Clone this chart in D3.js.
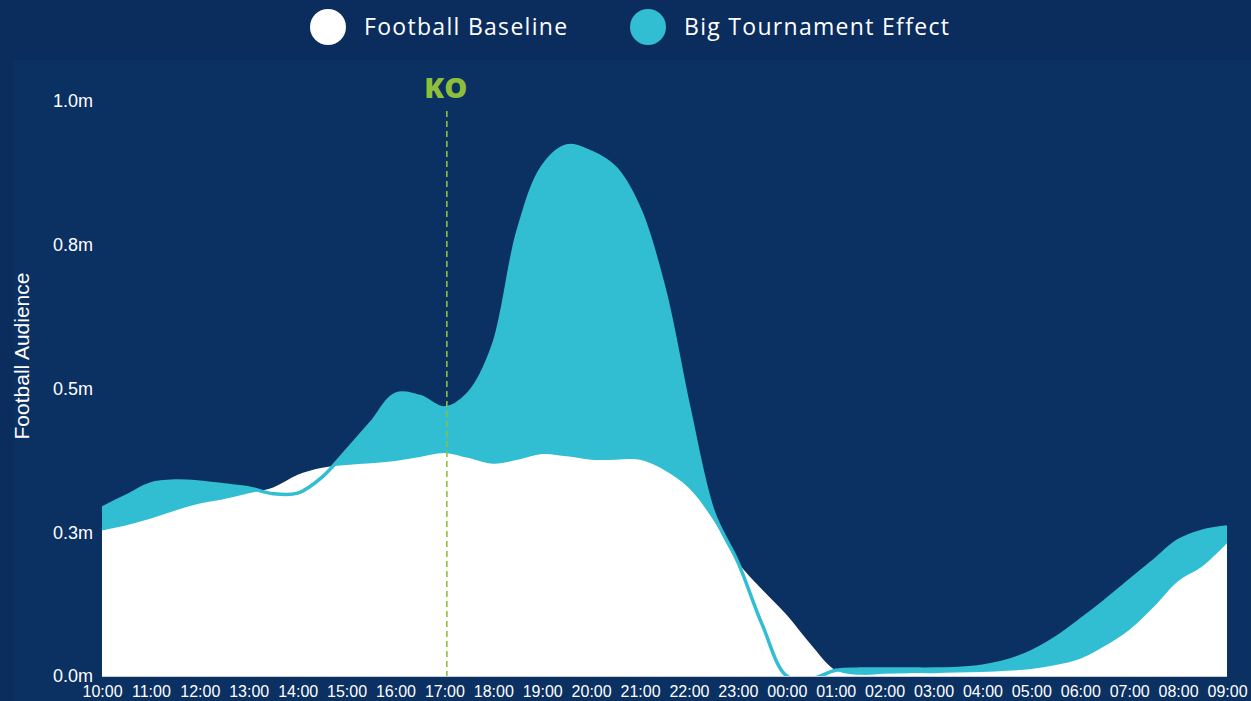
<!DOCTYPE html>
<html>
<head>
<meta charset="utf-8">
<script src="https://cdn.jsdelivr.net/npm/d3@7"></script>
<style>
  html, body { margin: 0; padding: 0; background: #0a2d5e; }
  svg { display: block; }
</style>
</head>
<body>
<svg id="chart" width="1251" height="701"></svg>
<script>
// Half-hourly audience, 10:00 through 09:00 the next morning (hours since midnight, day 1)
const hours = d3.range(10, 33.01, 0.5);

// Football Baseline (millions)
const baseline = [
  0.253, 0.262, 0.274, 0.288, 0.300, 0.308, 0.318, 0.328, 0.350, 0.362,
  0.367, 0.370, 0.374, 0.381, 0.388, 0.379, 0.369, 0.376, 0.386, 0.382,
  0.376, 0.376, 0.376, 0.358, 0.327, 0.271, 0.198, 0.150, 0.106, 0.054,
  0.010, 0.002, 0.004, 0.005, 0.005, 0.006, 0.007, 0.009, 0.012, 0.019,
  0.030, 0.052, 0.080, 0.120, 0.165, 0.191, 0.231
];

// Big Tournament Effect (millions)
const tournament = [
  0.292, 0.313, 0.334, 0.339, 0.337, 0.332, 0.327, 0.317, 0.318, 0.346,
  0.392, 0.440, 0.490, 0.486, 0.466, 0.492, 0.575, 0.772, 0.885, 0.922,
  0.911, 0.883, 0.810, 0.671, 0.466, 0.285, 0.198, 0.089, 0.000, -0.005,
  0.010, 0.012, 0.012, 0.012, 0.012, 0.013, 0.017, 0.026, 0.042, 0.066,
  0.097, 0.130, 0.165, 0.200, 0.235, 0.252, 0.259
];

const tickHours = d3.range(10, 33.01, 1);
const tickLabels = [
  "10:00", "11:00", "12:00", "13:00", "14:00", "15:00", "16:00", "17:00",
  "18:00", "19:00", "20:00", "21:00", "22:00", "23:00", "00:00", "01:00",
  "02:00", "03:00", "04:00", "05:00", "06:00", "07:00", "08:00", "09:00"
];
const yTicks = [0, 0.25, 0.5, 0.75, 1.0];

const seriesNames = ["Football Baseline", "Big Tournament Effect"];
const koHour = 17 + 3 / 60;
const koLabel = "KO";
const yTitle = "Football Audience";

const COLORS = { bg: "#0a2d5e", panel: "#0b3062", base: "#ffffff", effect: "#31bdd2", ko: "#8dbf3b", text: "#ffffff" };

const svg = d3.select("#chart");
const W = 1251, H = 701;
const m = { left: 102, right: 24, top: 101, bottom: 25 };

svg.append("rect").attr("width", W).attr("height", H).attr("fill", COLORS.bg);
svg.append("rect").attr("x", 14).attr("y", 60).attr("width", W - 14).attr("height", H - 60).attr("fill", COLORS.panel);

const x = d3.scaleLinear().domain([10, 33]).range([m.left, W - m.right]);
const y = d3.scaleLinear().domain([0, 1]).range([H - m.bottom, m.top]);

svg.append("defs").append("clipPath").attr("id", "plotClip")
  .append("rect")
  .attr("x", x(10)).attr("y", y(1) - 60)
  .attr("width", x(33) - x(10)).attr("height", y(0) - y(1) + 60);

const curve = d3.curveCatmullRom.alpha(0.5);
const effectData = hours.map((h, i) => ({ h, v: tournament[i] }));
const baseData = hours.map((h, i) => ({ h, v: baseline[i] }));

const area = d3.area().x(d => x(d.h)).y0(y(0)).y1(d => y(d.v)).curve(curve);
const line = d3.line().x(d => x(d.h)).y(d => y(d.v)).curve(curve);

const plot = svg.append("g").attr("clip-path", "url(#plotClip)");
plot.append("path").datum(effectData).attr("d", area).attr("fill", COLORS.effect);
plot.append("path").datum(baseData).attr("d", area).attr("fill", COLORS.base);
plot.append("path").datum(effectData).attr("d", line)
  .attr("fill", "none").attr("stroke", COLORS.effect).attr("stroke-width", 3.5);

// baseline axis rule
svg.append("line")
  .attr("x1", x(10)).attr("x2", x(33)).attr("y1", y(0) + 0.5).attr("y2", y(0) + 0.5)
  .attr("stroke", "#c9ced8").attr("stroke-width", 1);

// X axis labels
const xAxis = d3.axisBottom(x).tickValues(tickHours)
  .tickFormat((d, i) => tickLabels[i]).tickSize(0).tickPadding(10);
const gx = svg.append("g").attr("transform", `translate(0,${y(0)})`).call(xAxis);
gx.select(".domain").remove();
gx.selectAll("text").attr("fill", COLORS.text)
  .style("font-family", "'Liberation Sans', Arial, sans-serif").style("font-size", "16px");

// Y axis labels
const yAxis = d3.axisLeft(y).tickValues(yTicks)
  .tickFormat(d => d3.format(".1f")(d) + "m").tickSize(0).tickPadding(9);
const gy = svg.append("g").attr("transform", `translate(${m.left},0)`).call(yAxis);
gy.select(".domain").remove();
gy.selectAll("text").attr("fill", COLORS.text)
  .style("font-family", "'Liberation Sans', Arial, sans-serif").style("font-size", "18px");

svg.append("text")
  .attr("transform", `translate(29,356) rotate(-90)`)
  .attr("text-anchor", "middle")
  .attr("fill", COLORS.text)
  .style("font-family", "'Liberation Sans', Arial, sans-serif").style("font-size", "21px")
  .text(yTitle);

// Kick-off marker
svg.append("line")
  .attr("x1", x(koHour)).attr("x2", x(koHour))
  .attr("y1", 111).attr("y2", y(0))
  .attr("stroke", COLORS.ko).attr("stroke-width", 1.6).attr("stroke-dasharray", "6,4");
svg.append("text")
  .attr("x", x(koHour) - 1).attr("y", 98)
  .attr("text-anchor", "middle").attr("fill", COLORS.ko)
  .style("font-family", "'Open Sans', sans-serif").style("font-weight", 800).style("font-size", "29px")
  .text(koLabel);

// Legend
const legend = svg.append("g");
const legendItems = [
  { name: seriesNames[0], color: COLORS.base, cx: 328 },
  { name: seriesNames[1], color: COLORS.effect, cx: 648 }
];
legendItems.forEach(it => {
  legend.append("circle").attr("cx", it.cx).attr("cy", 27).attr("r", 18).attr("fill", it.color);
  legend.append("text").attr("x", it.cx + 36).attr("y", 35)
    .attr("fill", COLORS.text)
    .style("font-family", "'Open Sans', sans-serif").style("font-size", "23px")
    .style("letter-spacing", "1.3px")
    .text(it.name);
});
</script>
</body>
</html>
